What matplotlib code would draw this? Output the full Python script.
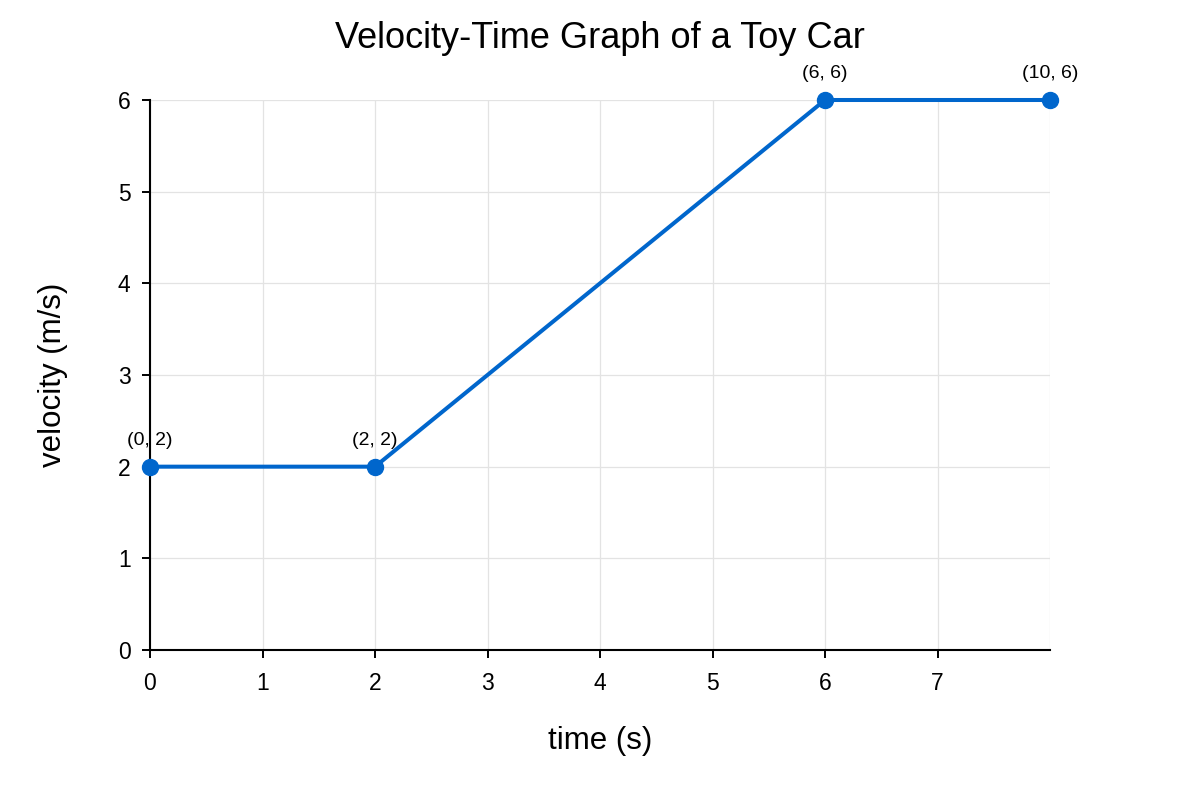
import numpy as np
import matplotlib
matplotlib.use("Agg")
import matplotlib.pyplot as plt

plt.rcParams['font.family'] = ['Liberation Sans', 'DejaVu Sans']

# data: time (s) and velocity (m/s)
tiempo = [0, 2, 6, 10]
velocidad = [2, 2, 6, 6]
etiquetas = ["(0, 2)", "(2, 2)", "(6, 6)", "(10, 6)"]

xmax = 8
ymax = 6
color = "#0066cc"

# the x scale is clamped to its domain, so points past 8 sit on the edge
tiempoVisible = np.clip(tiempo, 0, xmax)

fig = plt.figure(figsize=(12, 8), dpi=100)
ax = fig.add_axes([0.125, 0.1875, 0.75, 0.6875])

ax.set_xlim(0, xmax)
ax.set_ylim(0, ymax)

# grid
for gx in range(0, xmax + 1):
    ax.axvline(gx, color="#e3e3e3", lw=0.9, zorder=0)
for gy in range(0, ymax + 1):
    ax.axhline(gy, color="#e3e3e3", lw=0.9, zorder=0)

ax.plot(tiempoVisible, velocidad, color=color, lw=2.9, zorder=3, clip_on=False)
ax.plot(tiempoVisible, velocidad, "o", color=color, ms=11.5, zorder=4, clip_on=False)

for xv, yv, txt in zip(tiempoVisible, velocidad, etiquetas):
    ax.annotate(txt, (xv, yv), xytext=(0, 19), textcoords="offset points",
                ha="center", va="center", fontsize=14, color="black")

ax.set_xticks(range(0, xmax))
ax.set_yticks(range(0, ymax + 1))
ax.tick_params(axis="both", direction="out", length=6, width=1.4,
               labelsize=16.5, colors="black")
ax.tick_params(axis="x", pad=9.5)
ax.tick_params(axis="y", pad=8)

for s in ["top", "right"]:
    ax.spines[s].set_visible(False)
for s in ["left", "bottom"]:
    ax.spines[s].set_linewidth(1.5)
    ax.spines[s].set_color("black")

ax.set_xlabel("time (s)", fontsize=22.5)
ax.set_ylabel("velocity (m/s)", fontsize=22.5)
ax.xaxis.set_label_coords(0.5, -0.166)
ax.yaxis.set_label_coords(-0.108, 0.5)
ax.xaxis.label.set_va("center")
ax.yaxis.label.set_va("center")

fig.text(0.5, 1 - 39 / 800, "Velocity-Time Graph of a Toy Car",
         fontsize=26, ha="center", va="center")

plt.savefig("out.png", dpi=100)
